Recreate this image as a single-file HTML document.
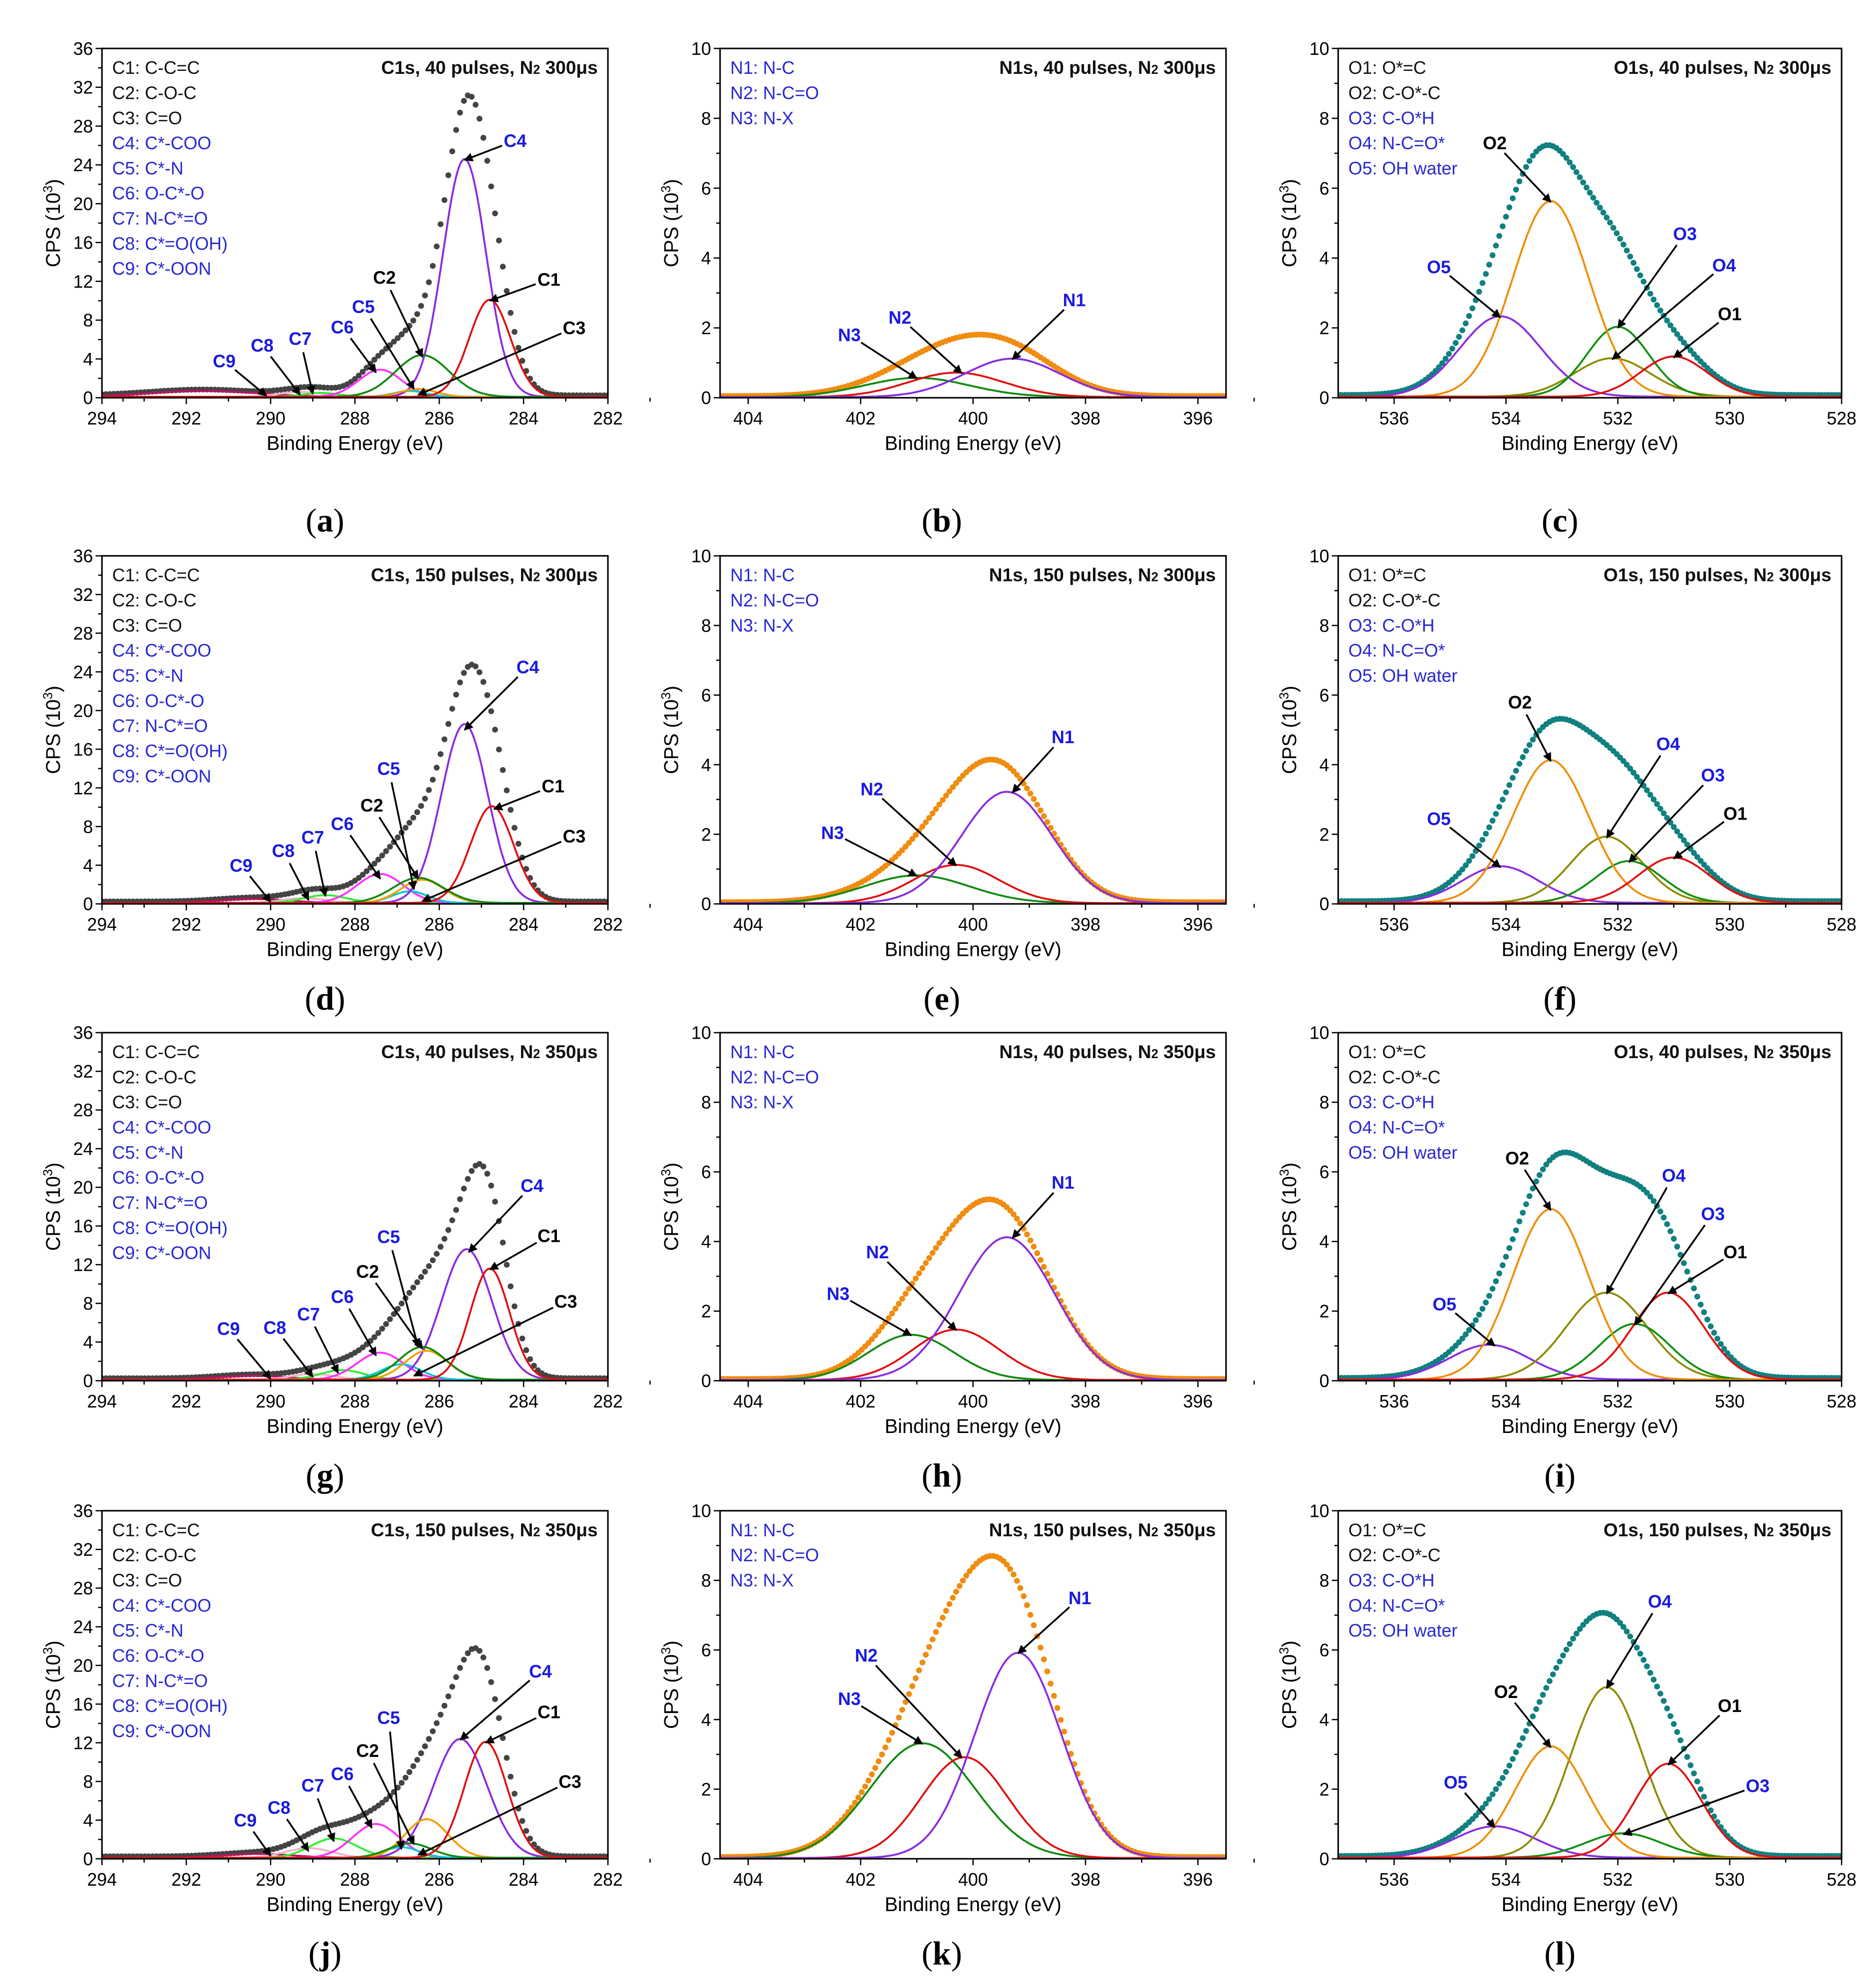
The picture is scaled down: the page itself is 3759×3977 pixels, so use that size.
<!DOCTYPE html>
<html><head><meta charset="utf-8"><style>
html,body{margin:0;padding:0;background:#fff;}
svg{display:block;}
text{font-family:"Liberation Sans",sans-serif;}
</style></head>
<body>
<svg id="fig" xmlns="http://www.w3.org/2000/svg" width="3759" height="3977" viewBox="0 0 1472 1557" preserveAspectRatio="none"></svg>
<script>
// ---- data: peak parameters per panel (center eV, height 10^3 CPS, FWHM eV) ----
const cNames=['C1','C2','C3','C4','C5','C6','C7','C8','C9'];
const nNames=['N1','N2','N3'];
const oNames=['O1','O2','O3','O4','O5'];
const a_centers=[284.8,286.4,286.5,285.4,286.7,287.4,288.8,289.3,291.6];
const a_heights=[10,4.3,0.8,24.5,0.6,2.8,0.4,0.5,0.6];
const a_fwhm=[1.15,1.5,1.0,1.2,0.9,1.2,1.0,1.2,3.0];
const d_centers=[284.75,286.5,286.4,285.4,286.7,287.4,288.7,289.2,290.4];
const d_heights=[10,2.6,2.4,18.5,1.2,3.0,0.8,0.5,0.4];
const d_fwhm=[1.2,1.4,1.2,1.3,1.0,1.3,1.2,1.2,2.0];
const g_centers=[284.8,286.4,286.3,285.35,286.9,287.4,288.3,289.0,290.4];
const g_heights=[11.5,3.4,3.0,13.5,1.6,2.8,1.0,0.6,0.4];
const g_fwhm=[1.1,1.3,1.2,1.4,1.1,1.3,1.2,1.2,2.0];
const j_centers=[284.9,286.7,286.3,285.5,286.9,287.5,288.5,289.1,290.3];
const j_heights=[12,1.5,4.0,12.3,1.1,3.5,2.0,1.0,0.4];
const j_fwhm=[1.2,1.2,1.2,1.5,1.0,1.3,1.3,1.3,2.0];
const b_centers=[399.3,400.3,401.0], b_heights=[1.1,0.7,0.55], b_fwhm=[2.0,2.0,2.2];
const e_centers=[399.4,400.3,401.0], e_heights=[3.2,1.1,0.8], e_fwhm=[1.9,1.8,2.2];
const h_centers=[399.4,400.3,401.1], h_heights=[4.1,1.45,1.3], h_fwhm=[2.0,1.8,1.8];
const k_centers=[399.2,400.15,400.9], k_heights=[5.9,2.9,3.3], k_fwhm=[1.8,1.8,2.2];
const c_centers=[531.0,533.2,532.0,532.1,534.1], c_heights=[1.15,5.6,2.0,1.1,2.3], c_fwhm=[1.4,1.6,1.3,1.6,1.7];
const f_centers=[531.0,533.2,531.8,532.2,534.1], f_heights=[1.3,4.1,1.2,1.9,1.05], f_fwhm=[1.5,1.6,1.4,1.5,1.6];
const i_centers=[531.1,533.2,531.7,532.2,534.3], i_heights=[2.5,4.9,1.6,2.5,1.0], i_fwhm=[1.5,1.6,1.5,1.7,1.7];
const l_centers=[531.1,533.2,531.9,532.2,534.2], l_heights=[2.7,3.2,0.7,4.9,0.9], l_fwhm=[1.4,1.5,1.6,1.5,1.7];
// annotations: [label, labelX(eV), labelY, tipX(eV), tipY]
const a_ann=[['C4',284.2,26.5,285.4,24.5],['C1',283.4,12.2,284.8,10],['C3',282.8,7.2,286.5,0.3],['C2',287.3,12.4,286.4,4.2],['C5',287.8,9.4,286.6,0.9],['C6',288.3,7.3,287.5,2.6],['C7',289.3,6.1,289.0,0.4],['C8',290.2,5.4,289.3,0.3],['C9',291.1,3.8,290.1,0.2]];
const d_ann=[['C4',283.9,24.5,285.4,18],['C1',283.3,12.2,284.7,9.8],['C3',282.8,7.0,286.4,0.3],['C2',287.6,10.2,286.5,2.6],['C5',287.2,14.0,286.6,1.5],['C6',288.3,8.3,287.4,2.6],['C7',289.0,6.9,288.7,0.8],['C8',289.7,5.5,289.1,0.4],['C9',290.7,4.0,290.0,0.2]];
const g_ann=[['C4',283.8,20.2,285.3,13.3],['C1',283.4,15.0,284.8,11.5],['C3',283.0,8.2,286.6,0.5],['C2',287.7,11.3,286.4,3.3],['C5',287.2,14.9,286.5,3.5],['C6',288.3,8.7,287.5,2.6],['C7',289.1,6.9,288.4,0.8],['C8',289.9,5.5,289.0,0.4],['C9',291.0,5.4,290.0,0.2]];
const j_ann=[['C4',283.6,19.4,285.5,12.3],['C1',283.4,15.2,284.9,12],['C3',282.9,8.0,286.5,0.4],['C2',287.7,11.2,286.6,1.5],['C5',287.2,14.6,286.9,1.0],['C6',288.3,8.8,287.6,3.2],['C7',289.0,7.6,288.5,1.8],['C8',289.8,5.3,289.1,0.8],['C9',290.6,4.0,290.0,0.3]];
const b_ann=[['N1',398.2,2.8,399.3,1.1],['N2',401.3,2.3,400.2,0.7],['N3',402.2,1.8,401.0,0.55]];
const e_ann=[['N1',398.4,4.8,399.3,3.2],['N2',401.8,3.3,400.3,1.1],['N3',402.5,2.05,401.0,0.8]];
const h_ann=[['N1',398.4,5.7,399.3,4.1],['N2',401.7,3.7,400.3,1.45],['N3',402.4,2.5,401.1,1.3]];
const k_ann=[['N1',398.1,7.5,399.2,5.9],['N2',401.9,5.85,400.2,2.9],['N3',402.2,4.6,400.9,3.3]];
const c_ann=[['O2',534.2,7.3,533.2,5.6],['O5',535.2,3.75,534.1,2.3],['O3',530.8,4.7,532.0,2.0],['O4',530.1,3.8,532.1,1.1],['O1',530.0,2.4,531.0,1.15]];
const f_ann=[['O2',533.75,5.8,533.2,4.1],['O5',535.2,2.45,534.1,1.05],['O4',531.1,4.6,532.2,1.9],['O3',530.3,3.7,531.8,1.2],['O1',529.9,2.6,531.0,1.3]];
const i_ann=[['O2',533.8,6.4,533.2,4.9],['O5',535.1,2.2,534.2,1.0],['O4',531.0,5.9,532.2,2.5],['O3',530.3,4.8,531.7,1.6],['O1',529.9,3.7,531.1,2.5]];
const l_ann=[['O2',534.0,4.8,533.2,3.2],['O5',534.9,2.2,534.2,0.9],['O4',531.25,7.4,532.2,4.9],['O1',530.0,4.4,531.1,2.7],['O3',529.5,2.1,531.9,0.7]];
const cTicksX=[294,292,290,288,286,284,282], cTicksY=[0,4,8,12,16,20,24,28,32,36];
const nTicksX=[404,402,400,398,396], oTicksX=[536,534,532,530,528], noTicksY=[0,2,4,6,8,10];

const NS='http://www.w3.org/2000/svg';
const svg=document.getElementById('fig');
function mk(tag,attrs,parent){const e=document.createElementNS(NS,tag);for(const k in attrs)e.setAttribute(k,attrs[k]);(parent||svg).appendChild(e);return e;}
const defs=mk('defs',{});
const mkr=mk('marker',{id:'arr',viewBox:'0 0 10 10',refX:'9',refY:'5',markerWidth:'5',markerHeight:'5',orient:'auto'},defs);
mk('path',{d:'M0,0 L10,5 L0,10 z',fill:'#000'},mkr);

const cols=[{x0:80,x1:477,lab:255},{x0:565,x1:962,lab:739},{x0:1050,x1:1445,lab:1224}];
const rows=[{top:38,bot:312,lab:408},{top:436,bot:709,lab:783},{top:810,bot:1083,lab:1157},{top:1185,bot:1458,lab:1532}];
const types={
 C:{xmin:294,xmax:282,ymax:36,names:cNames,colors:['#e01010','#108a10','#f0a000','#8a2be2','#00c8d8','#ff30ff','#30ee30','#f0b0c8','#c01060'],dot:'#444',base:0.25,ticksX:cTicksX,ticksY:cTicksY,minorY:2,
  legend:[['C1: C-C=C',0],['C2: C-O-C',0],['C3: C=O',0],['C4: C*-COO',1],['C5: C*-N',1],['C6: O-C*-O',1],['C7: N-C*=O',1],['C8: C*=O(OH)',1],['C9: C*-OON',1]],blue:[0,0,0,1,1,1,1,1,1]},
 N:{xmin:404.5,xmax:395.5,ymax:10,names:nNames,colors:['#8a2be2','#e01010','#108a10'],dot:'#f08c10',base:0.05,ticksX:nTicksX,ticksY:noTicksY,minorY:1,
  legend:[['N1: N-C',1],['N2: N-C=O',1],['N3: N-X',1]],blue:[1,1,1]},
 O:{xmin:537,xmax:528,ymax:10,names:oNames,colors:['#e01010','#f08c00','#109010','#8c8c00','#8a2be2'],dot:'#108080',base:0.08,ticksX:oTicksX,ticksY:noTicksY,minorY:1,
  legend:[['O1: O*=C',0],['O2: C-O*-C',0],['O3: C-O*H',1],['O4: N-C=O*',1],['O5: OH water',1]],blue:[0,0,1,1,1]}
};
const panels=[
 ['a','C',0,0,'C1s, 40 pulses, N','300μs',a_centers,a_heights,a_fwhm,a_ann],
 ['b','N',0,1,'N1s, 40 pulses, N','300μs',b_centers,b_heights,b_fwhm,b_ann],
 ['c','O',0,2,'O1s, 40 pulses, N','300μs',c_centers,c_heights,c_fwhm,c_ann],
 ['d','C',1,0,'C1s, 150 pulses, N','300μs',d_centers,d_heights,d_fwhm,d_ann],
 ['e','N',1,1,'N1s, 150 pulses, N','300μs',e_centers,e_heights,e_fwhm,e_ann],
 ['f','O',1,2,'O1s, 150 pulses, N','300μs',f_centers,f_heights,f_fwhm,f_ann],
 ['g','C',2,0,'C1s, 40 pulses, N','350μs',g_centers,g_heights,g_fwhm,g_ann],
 ['h','N',2,1,'N1s, 40 pulses, N','350μs',h_centers,h_heights,h_fwhm,h_ann],
 ['i','O',2,2,'O1s, 40 pulses, N','350μs',i_centers,i_heights,i_fwhm,i_ann],
 ['j','C',3,0,'C1s, 150 pulses, N','350μs',j_centers,j_heights,j_fwhm,j_ann],
 ['k','N',3,1,'N1s, 150 pulses, N','350μs',k_centers,k_heights,k_fwhm,k_ann],
 ['l','O',3,2,'O1s, 150 pulses, N','350μs',l_centers,l_heights,l_fwhm,l_ann]
];
function gauss(x,c,h,w){const s=w/2.3548;return h*Math.exp(-(x-c)*(x-c)/(2*s*s));}

panels.forEach(p=>{
 const [id,tp,ri,ci,title,titleEnd,cen,hei,fw,ann]=p;
 const T=types[tp], C=cols[ci], R=rows[ri];
 const sx=v=>C.x0+(T.xmin-v)/(T.xmin-T.xmax)*(C.x1-C.x0);
 const sy=v=>R.bot-v/T.ymax*(R.bot-R.top);
 const g=mk('g',{});
 
 
 const cp=mk('clipPath',{id:'clip'+id},defs);
 mk('rect',{x:C.x0,y:R.top,width:C.x1-C.x0,height:R.bot-R.top},cp);
 const ax=mk('g',{stroke:'#000','stroke-width':'1'},g);
 
 
 T.ticksY.forEach(v=>{mk('line',{x1:C.x0-5,x2:C.x0,y1:sy(v),y2:sy(v)},ax);
  const t=mk('text',{x:C.x0-7,y:sy(v)+5,'text-anchor':'end','font-size':'14',fill:'#000',stroke:'none'},g);t.textContent=v;
  
  });
 for(let v=0;v<T.ymax;v+=T.minorY){if(T.ticksY.indexOf(v)<0)mk('line',{x1:C.x0-3,x2:C.x0,y1:sy(v),y2:sy(v)},ax);}
 T.ticksX.forEach(v=>{mk('line',{x1:sx(v),x2:sx(v),y1:R.bot,y2:R.bot+5},ax);
  mk('line',{x1:sx(v-1),x2:sx(v-1),y1:R.bot,y2:R.bot+3},ax);
  const t=mk('text',{x:sx(v),y:R.bot+21,'text-anchor':'middle','font-size':'14',fill:'#000',stroke:'none'},g);t.textContent=v;
  
  });
 mk('line',{x1:sx(T.xmin-0.5),x2:sx(T.xmin-0.5),y1:R.bot,y2:R.bot+3},ax);
 const xt=mk('text',{x:(C.x0+C.x1)/2,y:R.bot+41,'text-anchor':'middle','font-size':'15.5',fill:'#000'},g);xt.textContent='Binding Energy (eV)';
 
 
 const yx=C.x0-33, yy=(R.top+R.bot)/2;
 const yt=mk('text',{x:yx,y:yy,'text-anchor':'middle','font-size':'15.5',fill:'#000',transform:'rotate(-90 '+yx+' '+yy+')'},g);
 yt.innerHTML='CPS (10<tspan font-size="10" dy="-6">3</tspan><tspan dy="6">)</tspan>';
 
 
 const cg=mk('g',{'clip-path':'url(#clip'+id+')'},g);
 const step=(T.xmin-T.xmax)/400;
 const nDots=tp==='C'?130:150, dstep=(T.xmin-T.xmax)/nDots;
 for(let d=0;d<=nDots;d++){const x=T.xmin-d*dstep;let s=T.base;for(let k=0;k<cen.length;k++)s+=gauss(x,cen[k],hei[k],fw[k]);
  const c=mk('circle',{cx:sx(x),cy:sy(s),r:2.3,fill:T.dot},cg);
  
  }
 for(let k=cen.length-1;k>=0;k--){let pts=[];for(let q=0;q<=400;q++){const x=T.xmin-q*step;pts.push(sx(x).toFixed(1)+','+sy(T.base*0.4+gauss(x,cen[k],hei[k],fw[k])).toFixed(1));}
  const pl=mk('polyline',{points:pts.join(' '),fill:'none',stroke:T.colors[k],'stroke-width':'1.5'},cg);
  
  }
 const fr=mk('rect',{x:C.x0,y:R.top,width:C.x1-C.x0,height:R.bot-R.top,fill:'none',stroke:'#000','stroke-width':'1.2'},g);
 
 
 T.legend.forEach((L,i)=>{const t=mk('text',{x:C.x0+8,y:R.top+20+i*19.7,'font-size':'14',fill:L[1]?'#2828d0':'#111'},g);t.textContent=L[0];
  
  });
 const tt=mk('text',{x:C.x1-8,y:R.top+20,'text-anchor':'end','font-size':'14.5','font-weight':'bold',fill:'#111'},g);
 tt.innerHTML=title+'<tspan font-size="10">2</tspan> '+titleEnd;
 
 
 ann.forEach(A=>{const idx=T.names.indexOf(A[0]);const lx=sx(A[1]),ly=sy(A[2]);
  const t=mk('text',{x:lx,y:ly+5,'text-anchor':'middle','font-size':'14','font-weight':'bold',fill:T.blue[idx]?'#1a1adf':'#000'},g);t.textContent=A[0];
  
  
  const tx=sx(A[3]),ty=sy(A[4]);const dx=tx-lx,dy=ty-ly,L=Math.hypot(dx,dy)||1;
  const ln=mk('line',{x1:lx+dx/L*11,y1:ly+dy/L*11,x2:tx,y2:ty,stroke:'#000','stroke-width':'1.4','marker-end':'url(#arr)'},g);
  
  });
 const pl=mk('text',{x:C.lab,y:R.lab+9,'text-anchor':'middle','font-size':'26',fill:'#000',style:'font-family:"Liberation Serif",serif'},g);
 pl.innerHTML='(<tspan font-weight="bold">'+id+'</tspan>)';
 
 
});
</script>
</body></html>
